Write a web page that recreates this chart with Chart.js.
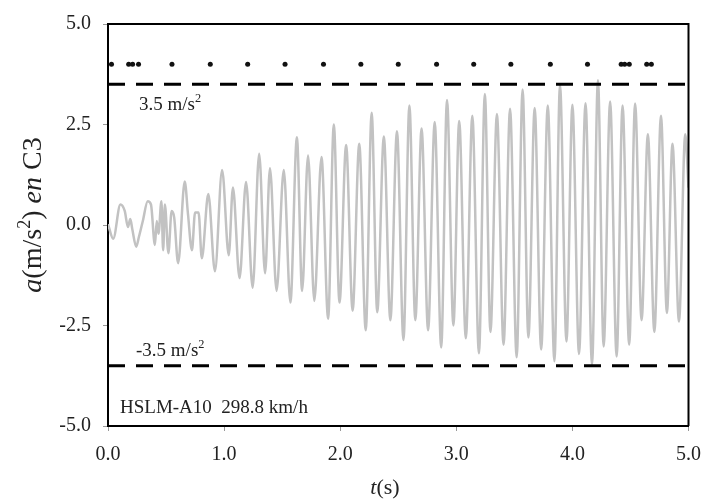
<!DOCTYPE html>
<html>
<head>
<meta charset="utf-8">
<script src="https://cdn.jsdelivr.net/npm/chart.js@4.4.1/dist/chart.umd.min.js"></script>
<style>
  html, body { margin: 0; padding: 0; background: #fff; }
  #wrap { width: 713px; height: 499px; }
</style>
</head>
<body>
<div id="wrap"><canvas id="myChart" width="713" height="499"></canvas></div>
<script>
// time (s) and acceleration (m/s2), peaks and troughs
var timeS = [0.00, 0.045, 0.107, 0.144, 0.172, 0.192, 0.209, 0.243, 0.266, 0.30,
  0.342, 0.37, 0.404, 0.42, 0.435, 0.46, 0.475, 0.49, 0.52, 0.548,
  0.57, 0.604, 0.661, 0.689, 0.723, 0.75, 0.78, 0.808, 0.864, 0.921,
  0.983, 1.04, 1.076, 1.133, 1.189, 1.246, 1.302, 1.353, 1.395, 1.452,
  1.514, 1.571, 1.627, 1.672, 1.723, 1.777, 1.839, 1.896, 1.945, 1.994,
  2.051, 2.107, 2.164, 2.22, 2.271, 2.319, 2.376, 2.432, 2.489, 2.545,
  2.596, 2.647, 2.701, 2.757, 2.814, 2.87, 2.92, 2.975, 3.025, 3.082,
  3.138, 3.195, 3.246, 3.294, 3.35, 3.407, 3.463, 3.52, 3.571, 3.621,
  3.675, 3.731, 3.788, 3.845, 3.893, 3.949, 4.0, 4.057, 4.113, 4.169,
  4.22, 4.269, 4.325, 4.381, 4.432, 4.489, 4.54, 4.596, 4.65, 4.706,
  4.763, 4.814, 4.862, 4.918, 4.972, 5.0];
var accel = [0.02, -0.34, 0.51, 0.35, -0.05, 0.15, -0.1, -0.54, -0.3, 0.1,
  0.59, 0.51, -0.5, 0.1, -0.22, 0.59, -0.63, 0.51, -0.7, 0.35,
  0.19, -0.95, 1.08, 0.27, -0.63, 0.31, 0.31, -0.83, 0.77, -1.15,
  1.37, -0.75, 0.93, -1.32, 1.07, -1.56, 1.77, -1.2, 1.41, -1.64,
  1.37, -1.93, 2.18, -1.64, 1.73, -1.89, 1.69, -2.33, 2.5, -1.93,
  1.99, -2.13, 2.02, -2.62, 2.79, -2.17, 2.2, -2.37, 2.33, -2.86,
  2.97, -2.37, 2.4, -2.62, 2.56, -3.05, 3.11, -2.5, 2.59, -2.82,
  2.72, -3.19, 3.26, -2.66, 2.76, -2.98, 2.89, -3.29, 3.37, -2.8,
  2.91, -3.1, 2.97, -3.39, 3.48, -2.9, 2.99, -3.21, 3.03, -3.47,
  3.6, -3.02, 3.07, -3.27, 2.97, -2.98, 3.02, -2.37, 2.26, -2.66,
  2.72, -2.19, 2.02, -2.4, 2.26, 0.93];

// axle passages drawn as dots at a = 4
var axleT = [0.03, 0.178, 0.212, 0.263, 0.551, 0.881, 1.203, 1.525, 1.856, 2.178,
  2.5, 2.83, 3.15, 3.47, 3.81, 4.13, 4.42, 4.45, 4.49, 4.64, 4.68];
var axleLevel = 4;

var limitT = [0, 5];
var limitUp = 3.5;
var limitDown = -3.5;

var xTicks = [0, 1, 2, 3, 4, 5];
var yTicks = [-5, -2.5, 0, 2.5, 5];

var signal = timeS.map(function (t, i) { return { x: t, y: accel[i] }; });
var axles = axleT.map(function (t) { return { x: t, y: axleLevel }; });
var upper = limitT.map(function (t) { return { x: t, y: limitUp }; });
var lower = limitT.map(function (t) { return { x: t, y: limitDown }; });

var serif = "'Liberation Serif', 'Times New Roman', serif";

function partFont(p, size) {
  var s = p[2] ? size * 0.65 : size;
  return (p[1] ? "italic " : "") + s + "px " + serif;
}

// parts: [text, italic, sup]; x is the start, or the centre when center is true
function drawRich(ctx, parts, x, y, size, center) {
  var total = 0;
  parts.forEach(function (p) {
    ctx.font = partFont(p, size);
    p.w = ctx.measureText(p[0]).width;
    total += p.w;
  });
  var cx = center ? x - total / 2 : x;
  parts.forEach(function (p) {
    ctx.font = partFont(p, size);
    ctx.fillText(p[0], cx, p[2] ? y - size * 0.4 : y);
    cx += p.w;
  });
}

var labelsPlugin = {
  id: "labels",
  afterDraw: function (chart) {
    var ctx = chart.ctx;
    var a = chart.chartArea;
    ctx.save();
    ctx.strokeStyle = "#000";
    ctx.lineWidth = 2;
    ctx.beginPath();
    ctx.moveTo(a.left, a.top);
    ctx.lineTo(a.right, a.top);
    ctx.lineTo(a.right, a.bottom);
    ctx.stroke();

    ctx.fillStyle = "#222";
    ctx.textBaseline = "alphabetic";
    drawRich(ctx, [["3.5 m/s", false, false], ["2", false, true]], 139, 110, 19, false);
    drawRich(ctx, [["-3.5 m/s", false, false], ["2", false, true]], 136, 356, 19, false);
    drawRich(ctx, [["HSLM-A10  298.8 km/h", false, false]], 120, 413, 19, false);

    drawRich(ctx, [["t", true, false], ["(s)", false, false]], 385, 494, 22, true);

    ctx.translate(41, 215);
    ctx.rotate(-Math.PI / 2);
    drawRich(ctx, [["a", true, false], ["(m/s", false, false], ["2", false, true],
      [") ", false, false], ["en", true, false], [" C3", false, false]], 0, 0, 28, true);
    ctx.restore();
  }
};

var config = {
  type: "line",
  data: {
    datasets: [
      {
        label: "axles",
        data: axles,
        showLine: false,
        pointRadius: 2.5,
        pointBackgroundColor: "#111",
        pointBorderWidth: 0,
        order: 0
      },
      {
        label: "3.5",
        data: upper,
        borderColor: "#000",
        borderWidth: 3,
        borderDash: [17, 11],
        pointRadius: 0,
        order: 1
      },
      {
        label: "-3.5",
        data: lower,
        borderColor: "#000",
        borderWidth: 3,
        borderDash: [17, 11],
        pointRadius: 0,
        order: 1
      },
      {
        label: "a",
        data: signal,
        borderColor: "#c2c2c2",
        borderWidth: 2.5,
        pointRadius: 0,
        cubicInterpolationMode: "monotone",
        order: 3
      }
    ]
  },
  options: {
    responsive: false,
    animation: false,
    events: [],
    layout: { padding: { top: 16, right: 16, left: 0, bottom: 0 } },
    plugins: { legend: { display: false }, tooltip: { enabled: false } },
    scales: {
      x: {
        type: "linear",
        min: 0,
        max: 5,
        afterFit: function (s) { s.height = 73; },
        afterBuildTicks: function (s) { s.ticks = xTicks.map(function (v) { return { value: v }; }); },
        ticks: {
          padding: 12,
          color: "#222",
          font: { family: serif, size: 20 },
          callback: function (v) { return v.toFixed(1); }
        },
        grid: { drawOnChartArea: false, drawTicks: true, tickLength: 5, color: "#999" },
        border: { display: true, color: "#000", width: 2 }
      },
      y: {
        min: -5,
        max: 5,
        afterFit: function (s) { s.width = 108; },
        afterBuildTicks: function (s) { s.ticks = yTicks.map(function (v) { return { value: v }; }); },
        ticks: {
          padding: 12,
          color: "#222",
          font: { family: serif, size: 20 },
          callback: function (v) { return v.toFixed(1); }
        },
        grid: { drawOnChartArea: false, drawTicks: true, tickLength: 5, color: "#999" },
        border: { display: true, color: "#000", width: 2 }
      }
    }
  },
  plugins: [labelsPlugin]
};

var myChart = new Chart(document.getElementById("myChart"), config);
</script>
</body>
</html>
